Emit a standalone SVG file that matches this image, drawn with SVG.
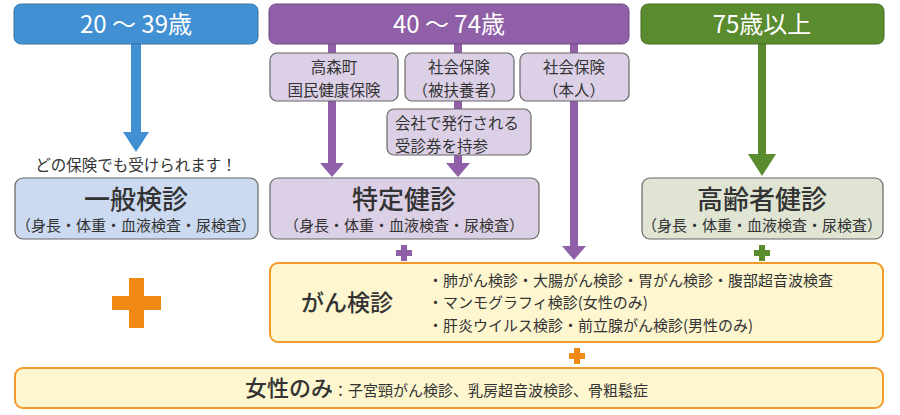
<svg xmlns="http://www.w3.org/2000/svg" width="900" height="415" viewBox="0 0 900 415">
<style>
text{font-family:"Noto Sans CJK JP","Noto Sans",sans-serif;fill:#333}
.hd text{fill:#fff;font-size:24px;text-anchor:middle}
.sub{stroke:#666;stroke-width:1.2}
.sm{font-size:15px}
.md{font-size:15.5px}
.mid{text-anchor:middle}
.big{font-size:26px;text-anchor:middle;font-weight:500}
.blue{fill:#4190d3}
.purple{fill:#8f5fa7}
.green{fill:#5a8b2f}
.orange{fill:#f08a14}
.bstem{stroke:#4190d3;stroke-width:10}
.pstem{stroke:#8f5fa7;stroke-width:8}
.gstem{stroke:#5a8b2f;stroke-width:8}
.ob{fill:#fdf6cf;stroke:#f29b2a;stroke-width:2}
</style>
<g id="connectors">
<line class="bstem" x1="136" y1="40" x2="136" y2="134"/>
<polygon class="blue" points="123,132 149,132 136,152"/>
<line class="pstem" x1="332" y1="40" x2="332" y2="165"/>
<polygon class="purple" points="320,163 344,163 332,177"/>
<line class="pstem" x1="458" y1="40" x2="458" y2="165"/>
<polygon class="purple" points="446,163 470,163 458,177"/>
<line class="pstem" x1="574" y1="40" x2="574" y2="248"/>
<polygon class="purple" points="562,246 586,246 574,260"/>
<line class="gstem" x1="762" y1="40" x2="762" y2="156"/>
<polygon class="green" points="748,154 776,154 762,176"/>
</g>
<g id="h1" class="hd"><rect x="14" y="4" width="244" height="40" rx="7" class="blue" stroke="#3a70a0" stroke-width="1"/><text x="136" y="33">20 ～ 39歳</text></g>
<g id="h2" class="hd"><rect x="269" y="4" width="360" height="40" rx="7" class="purple" stroke="#6d4a80" stroke-width="1"/><text x="449" y="33">40 ～ 74歳</text></g>
<g id="h3" class="hd"><rect x="641" y="4" width="243" height="40" rx="7" class="green" stroke="#466d24" stroke-width="1"/><text x="762" y="33">75歳以上</text></g>
<g id="kokuho"><rect class="sub" x="270" y="53" width="128" height="48" rx="7" fill="#dcd0e6"/><text class="md mid" x="334" y="73">高森町</text><text class="md mid" x="334" y="96">国民健康保険</text></g>
<g id="hifuyo"><rect class="sub" x="405" y="53" width="109" height="48" rx="7" fill="#dcd0e6"/><text class="md mid" x="459" y="73">社会保険</text><text class="md mid" x="459" y="96">（被扶養者）</text></g>
<g id="honnin"><rect class="sub" x="520" y="53" width="109" height="48" rx="7" fill="#dcd0e6"/><text class="md mid" x="574" y="73">社会保険</text><text class="md mid" x="574" y="96">（本人）</text></g>
<g id="jushin"><rect class="sub" x="387" y="109" width="144" height="46" rx="7" fill="#dcd0e6"/><text class="md" x="395" y="129">会社で発行される</text><text class="md" x="395" y="152">受診券を持参</text></g>
<g id="note"><text class="md mid" x="136" y="171">どの保険でも受けられます！</text></g>
<g id="ippan"><rect class="sub" x="15" y="178" width="243" height="61" rx="8" fill="#cbdaf0"/><text class="big" x="136" y="209">一般検診</text><text class="sm mid" x="136" y="231">（身長・体重・血液検査・尿検査）</text></g>
<g id="tokutei"><rect class="sub" x="270" y="178" width="269" height="61" rx="8" fill="#dcd0e6"/><text class="big" x="404" y="209">特定健診</text><text class="sm mid" x="404" y="231">（身長・体重・血液検査・尿検査）</text></g>
<g id="koreisha"><rect class="sub" x="642" y="178" width="241" height="61" rx="8" fill="#dfe4d3"/><text class="big" x="762" y="209">高齢者健診</text><text class="sm mid" x="762" y="231">（身長・体重・血液検査・尿検査）</text></g>
<g id="plus-p"><path class="purple" d="M401,245h6v5h5v6h-5v5h-6v-5h-5v-6h5z"/></g>
<g id="plus-g"><path class="green" d="M759,245h6v5h5v6h-5v5h-6v-5h-5v-6h5z"/></g>
<g id="plus-big"><path class="orange" d="M129,278h15v18h17v14h-17v18h-15v-18h-17v-14h17z"/></g>
<g id="gan"><rect class="ob" x="270" y="263" width="613" height="79" rx="8"/><text x="347" y="311" font-size="23" text-anchor="middle" font-weight="500">がん検診</text>
<text class="sm" x="428" y="286">・肺がん検診・大腸がん検診・胃がん検診・腹部超音波検査</text>
<text class="sm" x="428" y="308">・マンモグラフィ検診(女性のみ)</text>
<text class="sm" x="428" y="331">・肝炎ウイルス検診・前立腺がん検診(男性のみ)</text></g>
<g id="plus-o"><path class="orange" d="M574,348h6v5h5v6h-5v5h-6v-5h-5v-6h5z"/></g>
<g id="josei"><rect class="ob" x="15" y="368" width="868" height="40" rx="8"/><text x="245" y="396" font-size="22" font-weight="500">女性のみ<tspan font-size="15" font-weight="400">：子宮頸がん検診、乳房超音波検診、骨粗鬆症</tspan></text></g>
</svg>
